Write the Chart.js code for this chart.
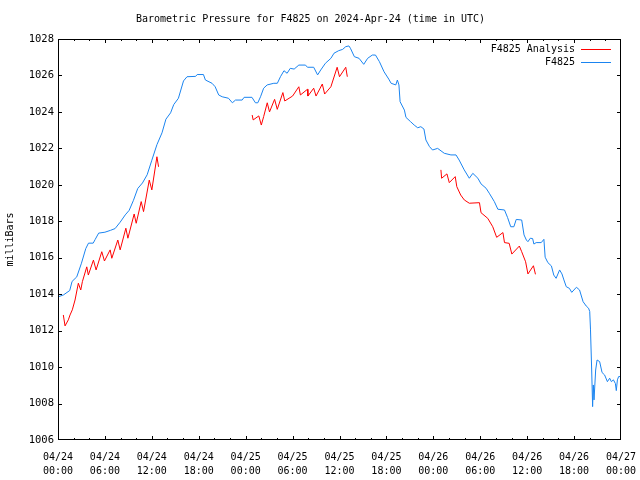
<!DOCTYPE html>
<html>
<head>
<meta charset="utf-8">
<title>Barometric Pressure F4825</title>
<script src="https://cdn.jsdelivr.net/npm/chart.js@4"></script>
<style>
  body { margin: 0; background: #fff; }
  canvas { display: block; }
</style>
</head>
<body>
<canvas id="pressureChart" width="640" height="480"></canvas>
<script>
// Datos (horas desde 04/24 00:00 UTC)
const stationHours = [
  0, 0.7, 1.5, 1.8, 2.4, 3.0, 3.55, 3.9, 4.5, 4.75, 5.2, 6.0, 6.7, 7.3, 7.95, 8.6, 9.1, 9.65, 10.2, 10.8,
  11.4, 12.0, 12.65, 13.3, 13.8, 14.4, 14.8, 15.4, 16.05, 16.5, 17.6, 17.8, 18.6, 18.85, 19.7, 20.1, 20.55, 21.0, 21.8, 22.3,
  22.7, 23.55, 23.8, 24.8, 25.25, 25.55, 25.9, 26.3, 26.75, 27.6, 28.05, 28.45, 28.9, 29.3, 29.7, 30.2, 30.8, 31.65, 31.9, 32.7,
  33.2, 33.6, 34.2, 34.9, 35.3, 35.9, 36.4, 36.8, 37.2, 37.4, 37.9, 38.5, 39.1, 39.6, 40.2, 40.6, 41.1, 41.7, 42.3, 42.6,
  43.2, 43.4, 43.6, 43.75, 44.3, 44.5, 45.1, 45.55, 46.0, 46.4, 46.8, 47.05, 47.5, 47.9, 48.55, 49.4, 50.25, 50.9, 51.3, 51.95,
  52.6, 53.05, 53.7, 54.1, 54.75, 55.15, 55.8, 56.25, 57.1, 57.5, 57.9, 58.3, 58.6, 59.3, 59.6, 59.9, 60.1, 60.4, 60.7, 60.86,
  61.15, 61.8, 62.14, 62.3, 62.65, 63.1, 63.4, 63.7, 64.15, 64.45, 64.7, 65.0, 65.4, 65.7, 66.3, 66.7, 67.15, 67.55, 67.85, 68.0,
  68.1, 68.25, 68.37, 68.46, 68.55, 68.76, 68.94, 69.27, 69.58, 69.9, 70.26, 70.55, 70.77, 71.03, 71.28, 71.4, 71.54, 71.7, 71.9
];
const stationPressure = [
  1013.85, 1013.96, 1014.2, 1014.7, 1014.95, 1015.7, 1016.5, 1016.8, 1016.8, 1017.0, 1017.35, 1017.4, 1017.5, 1017.6, 1017.95, 1018.35, 1018.6, 1019.15, 1019.8, 1020.1,
  1020.55, 1021.35, 1022.2, 1022.85, 1023.6, 1023.95, 1024.4, 1024.75, 1025.7, 1025.93, 1025.95, 1026.05, 1026.05, 1025.75, 1025.57, 1025.38, 1024.93, 1024.83, 1024.75, 1024.5,
  1024.65, 1024.65, 1024.8, 1024.8, 1024.5, 1024.5, 1024.83, 1025.3, 1025.48, 1025.57, 1025.57, 1025.93, 1026.26, 1026.12, 1026.39, 1026.35, 1026.57, 1026.57, 1026.45, 1026.45,
  1026.03, 1026.3, 1026.67, 1026.94, 1027.22, 1027.36, 1027.43, 1027.58, 1027.62, 1027.49, 1027.03, 1026.94, 1026.61, 1026.94, 1027.12, 1027.12, 1026.76, 1026.2, 1025.8, 1025.57,
  1025.48, 1025.75, 1025.48, 1024.56, 1024.1, 1023.7, 1023.46, 1023.28, 1023.13, 1023.19, 1023.06, 1022.46, 1022.1, 1021.91, 1022.0, 1021.73, 1021.64, 1021.64, 1021.36, 1020.82,
  1020.36, 1020.63, 1020.36, 1020.05, 1019.81, 1019.54, 1019.08, 1018.66, 1018.62, 1018.2, 1017.7, 1017.7, 1018.1, 1018.07, 1017.25, 1016.97, 1016.88, 1017.07, 1017.05, 1016.75,
  1016.83, 1016.83, 1017.01, 1016.03, 1015.73, 1015.55, 1015.05, 1014.87, 1015.33, 1015.11, 1014.78, 1014.41, 1014.32, 1014.1, 1014.38, 1014.23, 1013.59, 1013.35, 1013.23, 1013.05,
  1012.04, 1009.84, 1007.83, 1009.02, 1008.2, 1009.84, 1010.39, 1010.3, 1009.7, 1009.57, 1009.2, 1009.39, 1009.2, 1009.3, 1009.1, 1008.71, 1009.3, 1009.48, 1009.48
];

// Análisis: tres tramos separados por huecos (null)
const analysisHours = [
  0.68, 0.9, 1.32, 1.54, 1.83, 2.18, 2.6, 2.91, 3.12, 3.68, 3.88, 4.53, 4.87, 5.6, 5.94, 6.67, 6.88, 7.65, 7.95, 8.68,
  8.94, 9.74, 10.0, 10.64, 10.94, 11.67, 12.0, 12.65, 12.86,
  18,
  24.83, 24.96, 25.68, 26.0, 26.3, 26.76, 27.05, 27.7, 28.04, 28.76, 29.0, 30.0, 30.8, 31.0, 31.9, 31.96, 32.7, 33.0, 33.8, 34.1,
  34.9, 35.7, 36.0, 36.8, 37.0,
  43,
  48.97, 49.06, 49.74, 50.04, 50.8, 51.0, 51.5, 51.96, 52.6, 53.9, 54.1, 54.96, 55.6, 56.1, 56.9, 57.1, 57.7, 58.04, 59.0, 59.3,
  59.8, 60.1, 60.8, 61.06
];
const analysisPressure = [
  1012.86, 1012.26, 1012.59, 1012.86, 1013.14, 1013.68, 1014.6, 1014.23, 1014.69, 1015.5, 1015.05, 1015.87, 1015.33, 1016.33, 1015.82, 1016.43, 1015.97, 1016.97, 1016.43, 1017.62,
  1017.07, 1018.4, 1017.89, 1019.08, 1018.53, 1020.26, 1019.72, 1021.54, 1020.99,
  null,
  1023.83, 1023.56, 1023.78, 1023.28, 1023.74, 1024.5, 1024.0, 1024.69, 1024.14, 1025.06, 1024.6, 1024.87, 1025.38, 1024.93, 1025.24, 1024.87, 1025.3, 1024.87, 1025.53, 1024.98,
  1025.38, 1026.45, 1025.93, 1026.45, 1025.93,
  null,
  1020.82, 1020.36, 1020.6, 1020.12, 1020.45, 1019.9, 1019.44, 1019.17, 1018.99, 1019.02, 1018.47, 1018.16, 1017.7, 1017.12, 1017.38, 1016.83, 1016.79, 1016.2, 1016.64, 1016.33,
  1015.78, 1015.11, 1015.56, 1015.09
];

// Etiquetas del eje X cada 6 horas
const timeTickLabels = [
  ['04/24', '00:00'], ['04/24', '06:00'], ['04/24', '12:00'], ['04/24', '18:00'],
  ['04/25', '00:00'], ['04/25', '06:00'], ['04/25', '12:00'], ['04/25', '18:00'],
  ['04/26', '00:00'], ['04/26', '06:00'], ['04/26', '12:00'], ['04/26', '18:00'],
  ['04/27', '00:00']
];

const toPoints = (hours, values) => hours.map((h, i) => ({ x: h, y: values[i] }));

// Marco y marcas de escala hacia dentro (estilo gnuplot)
const frameTicks = {
  id: 'frameTicks',
  afterDraw(chart) {
    const { ctx, chartArea: a, scales } = chart;
    ctx.save();
    ctx.strokeStyle = '#000';
    ctx.lineWidth = 1;
    ctx.strokeRect(a.left + 0.5, a.top + 0.5, a.right - a.left - 1, a.bottom - a.top - 1);
    ctx.beginPath();
    for (let h = 2; h < 72; h += 2) {
      const px = Math.round(scales.x.getPixelForValue(h)) + 0.5;
      const len = h % 6 === 0 ? 4 : 2;
      ctx.moveTo(px, a.bottom); ctx.lineTo(px, a.bottom - len);
      ctx.moveTo(px, a.top); ctx.lineTo(px, a.top + len);
    }
    for (let v = 1008; v < 1028; v += 2) {
      const py = Math.round(scales.y.getPixelForValue(v)) + 0.5;
      ctx.moveTo(a.left, py); ctx.lineTo(a.left + 4, py);
      ctx.moveTo(a.right, py); ctx.lineTo(a.right - 4, py);
    }
    ctx.stroke();

    // Leyenda arriba a la derecha, texto alineado a la derecha
    ctx.font = '10px "DejaVu Sans Mono"';
    ctx.textAlign = 'right';
    ctx.textBaseline = 'middle';
    chart.data.datasets.forEach((ds, i) => {
      const yy = a.top + 10 + i * 13;
      ctx.fillStyle = '#000';
      ctx.fillText(ds.label, a.right - 46, yy);
      ctx.strokeStyle = ds.borderColor;
      ctx.beginPath();
      ctx.moveTo(a.right - 40, yy + 0.5);
      ctx.lineTo(a.right - 10, yy + 0.5);
      ctx.stroke();
    });
    ctx.restore();
  }
};

Chart.defaults.font.family = '"DejaVu Sans Mono", monospace';
Chart.defaults.font.size = 10;
Chart.defaults.color = '#000';

const ctx = document.getElementById('pressureChart').getContext('2d');
new Chart(ctx, {
  type: 'line',
  data: {
    datasets: [
      {
        label: 'F4825 Analysis',
        data: toPoints(analysisHours, analysisPressure),
        borderColor: '#ff0000',
        borderWidth: 1,
        pointRadius: 0,
        tension: 0,
        spanGaps: false
      },
      {
        label: 'F4825',
        data: toPoints(stationHours, stationPressure),
        borderColor: '#1a84f0',
        borderWidth: 1,
        pointRadius: 0,
        tension: 0
      }
    ]
  },
  options: {
    responsive: false,
    animation: false,
    layout: { padding: { top: 0, right: 19, bottom: 0, left: 0 } },
    plugins: {
      legend: { display: false },
      tooltip: { enabled: false },
      title: {
        display: true,
        text: 'Barometric Pressure for F4825 on 2024-Apr-24 (time in UTC)',
        font: { size: 10, weight: 'normal', lineHeight: 1.2 },
        padding: { top: 13, bottom: 14 }
      }
    },
    scales: {
      x: {
        type: 'linear',
        min: 0,
        max: 72,
        grid: { display: false, drawTicks: false },
        border: { display: false },
        afterFit: (scale) => {
          scale.height = 40;
          scale.paddingLeft = 0;
          scale.paddingRight = 0;
        },
        ticks: {
          stepSize: 6,
          autoSkip: false,
          maxRotation: 0,
          padding: 10,
          font: { size: 10, lineHeight: 1.4 },
          callback: (v) => timeTickLabels[v / 6]
        }
      },
      y: {
        min: 1006,
        max: 1028,
        grid: { display: false, drawTicks: false },
        border: { display: false },
        afterFit: (scale) => {
          scale.width = 58;
          scale.paddingTop = 0;
          scale.paddingBottom = 0;
        },
        title: { display: true, text: 'milliBars', font: { size: 10 }, padding: { top: 4, bottom: 4 } },
        ticks: {
          stepSize: 2,
          padding: 4,
          font: { size: 10.5 },
          callback: (v) => v
        }
      }
    }
  },
  plugins: [frameTicks]
});
</script>
</body>
</html>
